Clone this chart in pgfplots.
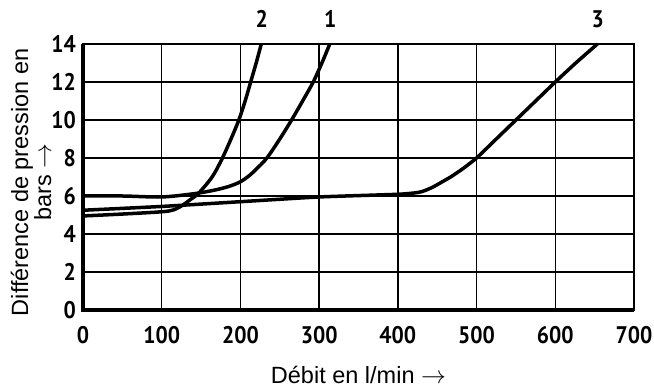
\documentclass[border=0pt]{standalone}
\usepackage{fontspec}
\setmainfont{Liberation Sans}
\newfontfamily\tickfont{PT Sans}[FakeStretch=0.9]
\usepackage{pgfplots}
\pgfplotsset{compat=1.18}
\begin{document}
\begin{tikzpicture}
\begin{axis}[
  scale only axis, width=551pt, height=266pt,
  xmin=0, xmax=700, ymin=0, ymax=14,
  xtick={0,100,...,700}, ytick={0,2,...,14},
  major tick length=0pt,
  grid=major,
  major grid style={black, line width=1.3pt},
  axis line style={black, line width=1.5pt},
  clip=false,
  /pgf/number format/assume math mode=true,
  tick label style={font=\tickfont\bfseries\fontsize{24}{26}\selectfont},
  xticklabel style={anchor=north, inner sep=0pt, yshift=-16pt},
  yticklabel style={anchor=east, inner sep=0pt, xshift=-7pt},
  xlabel={Débit en l/min $\rightarrow$},
  ylabel={Différence de pression en\\bars $\rightarrow$},
  label style={font=\fontsize{23.5}{23}\selectfont},
  xlabel style={at={(axis description cs:0.5,0)}, anchor=center, yshift=-65pt},
  ylabel style={at={(axis description cs:-0.094,0.48)}, anchor=center, align=center},
]
\addplot[black, line width=3.5pt, smooth, tension=0.5] coordinates {
(0,6.0) (50,6.0) (100,5.95) (141,6.12) (166,6.3) (185,6.5) (200,6.75) (212,7.1) (223,7.53) (234,8.02) (250,9) (265,10) (279,11) (292.5,12) (303.5,13) (313.5,14)};
\addplot[black, line width=3.5pt, smooth, tension=0.5] coordinates {
(0,4.95) (50,5.05) (100,5.17) (115,5.27) (126,5.5) (136,5.8) (147,6.15) (164,7) (176,7.9) (188,9) (198,10) (206,11) (213,12) (220,13) (226.5,14)};
\addplot[black, line width=3.5pt, smooth, tension=0.3] coordinates {
(0,5.25) (100,5.45) (200,5.7) (300,5.95) (400,6.09) (425,6.18) (434,6.28) (445,6.48) (467,7) (483,7.45) (500,8) (525,9) (550,10) (575,11) (600,12) (626,13) (653.5,14)};
\draw[black, line width=3.5pt] (axis cs:0,14) -- (axis cs:0,0) -- (axis cs:700,0);
\node[font=\tickfont\bfseries\fontsize{24}{26}\selectfont] at (axis cs:227,15.3) {2};
\node[font=\tickfont\bfseries\fontsize{24}{26}\selectfont] at (axis cs:314,15.3) {1};
\node[font=\tickfont\bfseries\fontsize{24}{26}\selectfont] at (axis cs:654,15.3) {3};
\end{axis}
\path[use as bounding box] (-83pt,-77pt) rectangle (571pt,310pt);
\end{tikzpicture}
\end{document}
